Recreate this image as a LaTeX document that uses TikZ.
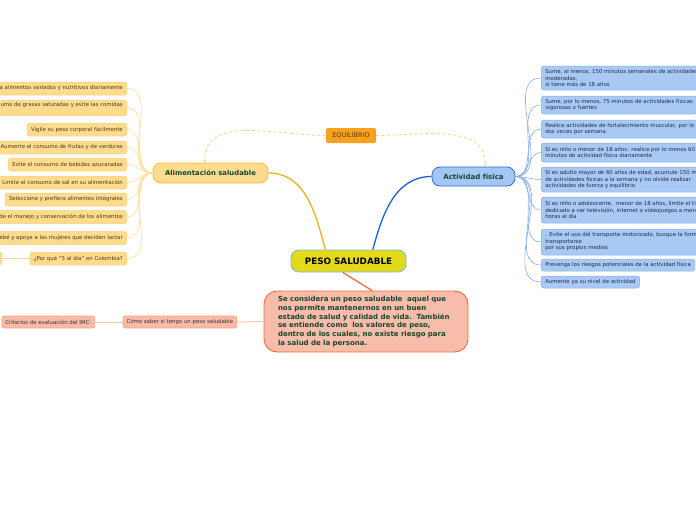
\documentclass[tikz,border=0pt]{standalone}
\usepackage{fontspec}
\setmainfont{DejaVu Sans}
\usetikzlibrary{arrows.meta, calc, positioning}
\definecolor{hubfill}{HTML}{E3DA1C}
\definecolor{hubline}{HTML}{7EB6D9}
\definecolor{txtgreen}{HTML}{16452F}
\definecolor{descfill}{HTML}{F8BDAA}
\definecolor{descline}{HTML}{F26B3A}
\definecolor{alimfill}{HTML}{FFDB8E}
\definecolor{alimline}{HTML}{F7BD3B}
\definecolor{alimlink}{HTML}{F5AE1B}
\definecolor{alimfan}{HTML}{FFDA90}
\definecolor{alimtxt}{HTML}{4A3A1A}
\definecolor{actfill}{HTML}{A4C6F4}
\definecolor{actline}{HTML}{2E6BD1}
\definecolor{actlink}{HTML}{1F5FD0}
\definecolor{actfan}{HTML}{86AEEC}
\definecolor{acttxt}{HTML}{1E2A44}
\definecolor{equifill}{HTML}{F6A21E}
\definecolor{equitxt}{HTML}{5A3A0A}
\definecolor{equidash}{HTML}{FFCD80}
\definecolor{salfill}{HTML}{F9BBA6}
\definecolor{salline}{HTML}{F5A28A}
\definecolor{sallink}{HTML}{FCC6B5}
\tikzset{
  hubbox/.style   = {draw=hubline, fill=hubfill, line width=0.9pt, rounded corners=8pt,
                     minimum width=115, minimum height=22, inner sep=2pt,
                     font=\fontsize{8.8}{10}\selectfont\bfseries},
  descbox/.style  = {draw=descline, fill=descfill, line width=0.9pt, rounded corners=13pt,
                     minimum width=204, minimum height=61, text width=176, align=left,
                     inner sep=0pt, text=txtgreen, font=\fontsize{7}{8.8}\selectfont\bfseries},
  alimbox/.style  = {draw=alimline, fill=alimfill, line width=0.8pt, rounded corners=8pt,
                     minimum width=115, minimum height=20, inner sep=2pt, text=txtgreen,
                     font=\fontsize{6.9}{8}\selectfont\bfseries},
  actbox/.style   = {draw=actline, fill=actfill, line width=0.8pt, rounded corners=8pt,
                     minimum width=83, minimum height=19, inner sep=2pt, text=txtgreen,
                     font=\fontsize{7}{8}\selectfont\bfseries},
  equibox/.style  = {fill=equifill, rounded corners=2pt, minimum width=50, minimum height=15,
                     inner sep=2pt, text=equitxt, font=\fontsize{6.5}{7}\selectfont},
  salbox/.style   = {draw=salline, fill=salfill, line width=0.6pt, rounded corners=2pt,
                     minimum height=12, inner xsep=3.5pt, inner ysep=2pt, text=black!80,
                     font=\fontsize{5.4}{6.5}\selectfont},
  leafl/.style    = {draw=alimline!70, fill=alimfill, line width=0.5pt, rounded corners=2.5pt,
                     anchor=east, minimum height=13, inner xsep=4pt, inner ysep=2pt,
                     align=left, text=alimtxt, font=\fontsize{5.4}{6.5}\selectfont},
  leafr/.style    = {draw=actfan, fill=actfill!95!white, line width=0.5pt, rounded corners=2.5pt,
                     anchor=west, minimum height=12, inner xsep=4pt, inner ysep=2pt,
                     align=left, text=acttxt, font=\fontsize{5.4}{6.5}\selectfont},
  mainlink/.style = {line width=1.3pt},
  fanl/.style     = {draw=alimfan, line width=0.6pt},
  fanr/.style     = {draw=actfan, line width=0.6pt},
  equilink/.style = {draw=equidash, line width=0.8pt, dash pattern=on 3pt off 2.5pt,
                     -{Latex[length=3pt, width=3pt]}},
}

\begin{document}
\begin{tikzpicture}[x=1pt, y=-1pt]
  \useasboundingbox (0,0) rectangle (696,520);
  \clip (0,0) rectangle (696,520);
  \node[hubbox]  (hub)  at (348.5,261) {PESO SALUDABLE};
  \node[descbox] (desc) at (366,321.5) {Se considera un peso saludable\ \ aquel que\\nos permite mantenernos en un buen\\estado de salud y calidad de vida.\ \ También\\se entiende como\ \ los valores de peso,\\dentro de los cuales, no existe riesgo para\\la salud de la persona.};
  \node[alimbox] (alim) at (210.5,173) {Alimentación saludable};
  \node[actbox]  (act)  at (473.5,176.5) {Actividad física};
  \node[equibox] (equi) at (351,135.5) {EQUILIBRIO};
  \node[salbox, anchor=east] (como) at (237,322) {Cómo saber si tengo un peso saludable};
  \node[salbox, anchor=east] (crit) at (95,322) {Criterios de evaluación del IMC:};

  \node[leafl] (a1)  at (127,88.5)  {Consuma alimentos variados y nutritivos diariamente};
  \node[leafl] (a2)  at (127,108)   {Reduzca el consumo de grasas saturadas y evite las comidas\\rápidas};
  \node[leafl] (a3)  at (127,129.5) {Vigile su peso corporal fácilmente};
  \node[leafl] (a4)  at (127,147.5) {Aumente el consumo de frutas y de verduras};
  \node[leafl] (a5)  at (127,164.5) {Evite el consumo de bebidas azucaradas};
  \node[leafl] (a6)  at (127,182.5) {Limite el consumo de sal en su alimentación};
  \node[leafl] (a7)  at (127,199.5) {Seleccione y prefiera alimentos integrales};
  \node[leafl] (a8)  at (127,217)   {Cuide el manejo y conservación de los alimentos};
  \node[leafl] (a9)  at (127,238)   {Amamante a su bebé y apoye a las mujeres que deciden lactar};
  \node[leafl] (a10) at (127,258.5) {¿Por qué "5 al día" en Colombia?};
  \node[leafl, minimum width=40] (a11) at (2,258.5) {};

  \node[leafr, minimum height=24] (r1) at (541,78)    {Sume, al menos, 150 minutos semanales de actividades físicas\\moderadas,\\si tiene más de 18 años};
  \node[leafr, minimum height=18] (r2) at (541,105)   {Sume, por lo menos, 75 minutos de actividades físicas\\vigorosas o fuertes};
  \node[leafr, minimum height=18] (r3) at (541,129)   {Realice actividades de fortalecimiento muscular, por lo menos\\dos veces por semana};
  \node[leafr, minimum height=19] (r4) at (541,152.5) {Si es niño o menor de 18 años: realice por lo menos 60\\minutos de actividad física diariamente};
  \node[leafr, minimum height=25] (r5) at (541,179.5) {Si es adulto mayor de 60 años de edad, acumule 150 minutos\\de actividades físicas a la semana y no olvide realizar\\actividades de fuerza y equilibrio};
  \node[leafr, minimum height=26] (r6) at (541,210)   {Si es niño o adolescente,\ \ menor de 18 años, limite el tiempo\\dedicado a ver televisión, internet o videojuegos a menos de 2\\horas al día};
  \node[leafr, minimum height=26] (r7) at (541,242)   {. Evite el uso del transporte motorizado, busque la forma de\\transportarse\\por sus propios medios};
  \node[leafr] (r8) at (541,265) {Prevenga los riesgos potenciales de la actividad física};
  \node[leafr] (r9) at (541,282) {Aumente ya su nivel de actividad};

  \draw[mainlink, draw=alimlink] (alim.east) to[out=0, in=105] ($(hub.north west)!0.3!(hub.north east)$);
  \draw[mainlink, draw=actlink] (act.west) to[out=180, in=75] ($(hub.north west)!0.71!(hub.north east)$);
  \draw[mainlink, draw=descline] ($(hub.south west)!0.45!(hub.south east)$) -- ($(desc.north west)!0.53!(desc.north east)$);
  \draw[draw=sallink, line width=1pt] (desc.west) -- (como.east);
  \draw[draw=sallink, line width=1pt] (como.west) -- (crit.east);
  \draw[equilink] (equi.west) to[out=180, in=90] ($(alim.north west)!0.45!(alim.north east)$);
  \draw[equilink] (equi.east) to[out=0, in=90] ($(act.north west)!0.64!(act.north east)$);

  \foreach \n in {a1,a2,a3,a4,a5,a6,a7,a8,a9,a10}
    \draw[fanl] (alim.west) to[out=180, in=0] (\n.east);
  \draw[fanl, line width=1pt] (a10.west) -- (a11.east);
  \foreach \n in {r1,r2,r3,r4,r5,r6,r7,r8,r9}
    \draw[fanr] (act.east) to[out=0, in=180] (\n.west);
\end{tikzpicture}
\end{document}
